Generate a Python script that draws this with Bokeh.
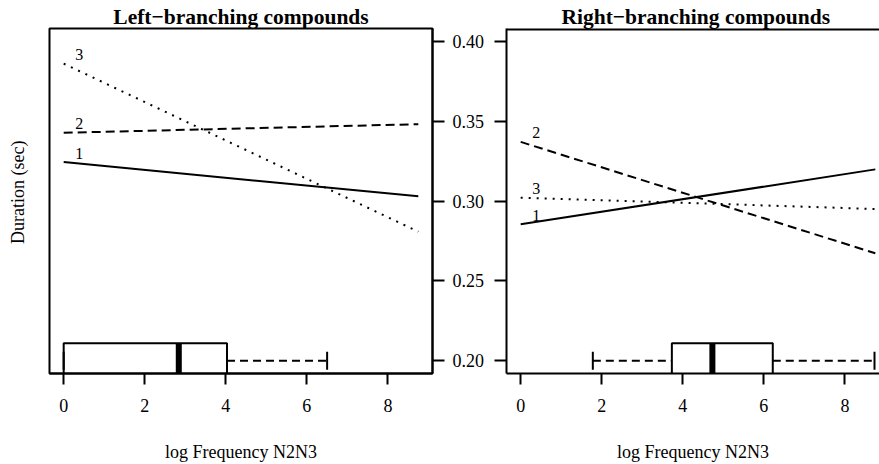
import json
from bokeh.plotting import figure
from bokeh.models import (LinearAxis, FixedTicker, Range1d, PrintfTickFormatter,
                          CustomJSTickFormatter, Title, Span)
from bokeh.layouts import row
from bokeh.embed import file_html
from bokeh.resources import INLINE
from bokeh.core.properties import value

FONT = "Liberation Serif"

# ---------------- data ----------------
titles = ["Left\u2212branching compounds", "Right\u2212branching compounds"]
x_label = "log Frequency N2N3"
y_label = "Duration (sec)"
x_ticks = [0, 2, 4, 6, 8]
y_ticks = [0.20, 0.25, 0.30, 0.35, 0.40]

freq_ends = [0.0, 8.75]
line_names = ["1", "2", "3"]

left_line1 = [0.3244, 0.3029]
left_line2 = [0.3427, 0.3481]
left_line3 = [0.3860, 0.2808]

right_line1 = [0.2854, 0.3198]
right_line2 = [0.3370, 0.2673]
right_line3 = [0.3021, 0.2950]

# boxplot of log frequency: min, q1, median, q3, max
left_box = [0.00, 0.00, 2.84, 4.03, 6.50]
right_box = [1.78, 3.73, 4.73, 6.22, 8.73]
box_at = 0.20

# ---------------- styling ----------------
Y_RANGE = (0.192, 0.408)
X_START = -0.35
PX_PER_UNIT = 383 / 9.45
DASHES = ["solid", "9 5", "2 6"]
HEIGHT = 464
TOP = 28
BOTTOM = 91


def style_axis(ax):
    ax.axis_line_width = 2
    ax.axis_line_color = "black"
    ax.major_tick_line_width = 2
    ax.major_tick_line_color = "black"
    ax.major_tick_out = 11
    ax.major_tick_in = 0
    ax.minor_tick_line_color = None
    ax.major_label_text_font = FONT
    ax.major_label_text_font_size = "18px"
    ax.major_label_text_color = "black"


def make_panel(width, frame_w, lines, box, title, border_left, border_right, left_panel):
    x_end = X_START + frame_w / PX_PER_UNIT
    p = figure(width=width, height=HEIGHT, x_range=Range1d(X_START, x_end),
               y_range=Range1d(*Y_RANGE), output_backend="svg", toolbar_location=None,
               title=None, x_axis_location=None, y_axis_location=None,
               min_border_left=border_left, min_border_right=border_right,
               min_border_top=TOP, min_border_bottom=BOTTOM)
    p.xgrid.visible = False
    p.ygrid.visible = False
    p.background_fill_color = "white"
    p.border_fill_color = "white"

    if left_panel:
        p.outline_line_color = "black"
        p.outline_line_width = 2
        t = Title(text=title, align="center")
    else:
        # right panel runs off the page edge: no right-hand frame line
        p.outline_line_color = None
        p.add_layout(Span(location=Y_RANGE[1], dimension="width",
                          line_color="black", line_width=4))
        t = Title(text=title, align="left", offset=55)
    t.text_font = FONT
    t.text_font_style = "bold"
    t.text_font_size = "21.5px"
    t.text_color = "black"
    t.standoff = 0
    t.vertical_align = "bottom"
    p.add_layout(t, "above")

    # bottom axis
    xa = LinearAxis(ticker=FixedTicker(ticks=x_ticks), axis_label=x_label)
    style_axis(xa)
    xa.major_label_standoff = 14
    xa.axis_label_text_font = FONT
    xa.axis_label_text_font_size = "18px"
    xa.axis_label_text_font_style = "normal"
    xa.axis_label_text_color = "black"
    xa.axis_label_standoff = 27
    p.add_layout(xa, "below")

    if left_panel:
        ya = LinearAxis(ticker=FixedTicker(ticks=y_ticks), formatter=PrintfTickFormatter(format="%.2f"))
        style_axis(ya)
        ya.major_tick_out = 12
        ya.major_label_standoff = 8
        p.add_layout(ya, "right")
        # y title drawn as a single rotated label on an otherwise empty left axis
        la = LinearAxis(ticker=FixedTicker(ticks=[0.3055]),
                        formatter=CustomJSTickFormatter(code="return " + json.dumps(y_label)))
        style_axis(la)
        la.axis_line_color = None
        la.major_tick_line_color = None
        la.major_tick_out = 0
        la.major_label_orientation = "vertical"
        la.major_label_standoff = 21
        p.add_layout(la, "left")
    else:
        ya = LinearAxis(ticker=FixedTicker(ticks=y_ticks), formatter=CustomJSTickFormatter(code="return ''"))
        style_axis(ya)
        ya.major_tick_out = 12
        ya.major_label_standoff = 0
        ya.major_label_text_font_size = "0px"
        p.add_layout(ya, "left")

    for ys, dash in zip(lines, DASHES):
        p.line(freq_ends, ys, line_width=2, line_color="black", line_dash=dash)

    p.text(x=[freq_ends[0]] * 3, y=[ys[0] for ys in lines], text=line_names,
           x_offset=15.5, y_offset=-9, text_align="center", text_baseline="middle",
           text_font=value(FONT), text_font_size="16px", text_color="black")

    lo, q1, med, q3, hi = box
    half = 0.011
    p.quad(left=[q1], right=[q3], bottom=[box_at - half], top=[box_at + half],
           fill_color=None, line_color="black", line_width=2)
    p.segment(x0=[lo, q3], y0=[box_at, box_at], x1=[q1, hi], y1=[box_at, box_at],
              line_color="black", line_width=2, line_dash="8 5")
    p.segment(x0=[lo, hi], y0=[box_at - 0.0056] * 2, x1=[lo, hi], y1=[box_at + 0.0056] * 2,
              line_color="black", line_width=2)
    p.segment(x0=[med], y0=[box_at - half], x1=[med], y1=[box_at + half],
              line_color="black", line_width=6)
    return p


p1 = make_panel(494, 383, [left_line1, left_line2, left_line3], left_box, titles[0], 49, 62, True)
p2 = make_panel(385, 373, [right_line1, right_line2, right_line3], right_box, titles[1], 12, 0, False)

layout = row(p1, p2)
open("out.html", "w").write(file_html(layout, INLINE))
